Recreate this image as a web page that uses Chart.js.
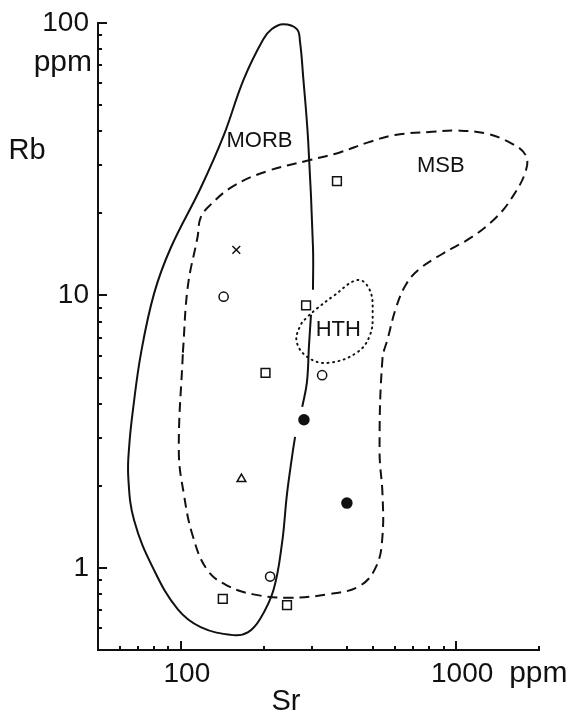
<!DOCTYPE html>
<html lang="en">
<head>
<meta charset="utf-8">
<title>Rb versus Sr</title>
<script src="https://cdn.jsdelivr.net/npm/chart.js@4.4.1/dist/chart.umd.min.js"></script>
<style>
  html, body { margin: 0; padding: 0; background: #fff; }
  #wrap { width: 583px; height: 719px; }
</style>
</head>
<body>
<div id="wrap"><canvas id="chart" width="583" height="719"></canvas></div>
<script>
// axis ticks (log scales)
var srTicks = [50, 60, 70, 80, 90, 100, 200, 300, 400, 500, 600, 700, 800, 900, 1000, 2000];
var rbTicks = [0.5, 0.6, 0.7, 0.8, 0.9, 1, 2, 3, 4, 5, 6, 7, 8, 9, 10, 20, 30, 40, 50, 60, 70, 80, 90, 100];
var srLabelled = [100, 1000];
var rbLabelled = [1, 10, 100];

// samples, Sr and Rb in ppm
var squareSr = [369, 285, 203, 142, 243];
var squareRb = [26.3, 9.2, 5.2, 0.77, 0.73];
var circleSr = [143, 326, 211];
var circleRb = [9.9, 5.1, 0.93];
var dotSr = [280, 401];
var dotRb = [3.5, 1.73];
var triangleSr = [166];
var triangleRb = [2.12];
var crossSr = [159];
var crossRb = [14.7];

// field outlines (null = break in the line)
var morbSr = [297, 292, 287, 276, null, 260, 254, 243, 233, 217, 194, 175, 155, 118, 97.5, 80, 67.7, 64.4, 65, 67.1, 71.7, 80, 92, 118, 143, 169, 199, 214, 235, 264, 271, 278, 290, 302, 302];
var morbRb = [8.5, 6.53, 4.8, 3.9, null, 3.03, 2.6, 1.87, 1.23, 0.83, 0.65, 0.58, 0.567, 0.607, 0.705, 0.98, 1.49, 2.16, 2.85, 3.86, 6.17, 10.2, 15, 24.8, 38.6, 62, 87, 95, 99, 95, 85, 64, 37, 15, 10.5];
var msbSr = [101.7, 106, 115, 118, 128, 155, 206, 294, 378, 473, 600, 819, 1000, 1283, 1593, 1790, 1790, 1593, 1394, 1142, 890, 735, 660, 607, 564, 540, 527, 540, 540, 514, 447, 340, 243, 183.5, 148, 125, 110.5, 102.5, 98.3, 101.7];
var msbRb = [6.17, 10.8, 16.4, 19.3, 21.5, 25.2, 28.6, 31.4, 33.5, 36.3, 38.8, 39.9, 40.3, 39.3, 36.1, 32.7, 28.6, 22.8, 19.3, 16.4, 14.2, 12.5, 11.05, 9.12, 6.93, 5.86, 2.68, 1.87, 1.31, 1.02, 0.86, 0.80, 0.778, 0.80, 0.86, 0.98, 1.31, 1.87, 2.68, 6.17];
var hthSr = [312.5, 356.6, 439, 485, 497.5, 485, 435.5, 348, 294.5, 264, 271, 290, 312.5];
var hthRb = [8.97, 9.92, 11.4, 10.5, 8.6, 7.1, 6.17, 5.67, 5.86, 6.7, 7.72, 8.39, 8.97];

var fieldNames = ['MORB', 'MSB', 'HTH'];
var fieldNameSr = [193, 879, 373];
var fieldNameRb = [37, 29.8, 7.5];

var ink = '#111';
var face = '"Liberation Sans", Arial, sans-serif';

function pts(xs, ys) {
  return xs.map(function(x, i) { return {x: x, y: ys[i]}; });
}

function marker(xs, ys, style, r, fill) {
  return {
    data: pts(xs, ys),
    pointStyle: style,
    pointRadius: r,
    pointBorderWidth: 1.5,
    pointBorderColor: ink,
    pointBackgroundColor: fill,
    order: 0
  };
}

function outline(xs, ys, dash, cap) {
  return {
    data: pts(xs, ys),
    showLine: true,
    borderColor: ink,
    borderWidth: 2,
    borderDash: dash,
    borderCapStyle: cap,
    tension: 0.4,
    pointRadius: 0,
    spanGaps: false,
    clip: false,
    order: 1
  };
}

var extras = {
  id: 'extras',
  afterDraw: function(chart) {
    var ctx = chart.ctx, xs = chart.scales.x, ys = chart.scales.y, area = chart.chartArea;
    ctx.save();
    ctx.strokeStyle = ink;
    ctx.lineWidth = 2;
    // ticks point into the plot
    ys.ticks.forEach(function(t) {
      var y = Math.round(ys.getPixelForValue(t.value));
      var len = rbLabelled.indexOf(t.value) >= 0 ? 9 : 4;
      ctx.beginPath(); ctx.moveTo(area.left, y); ctx.lineTo(area.left + len, y); ctx.stroke();
    });
    xs.ticks.forEach(function(t) {
      var x = Math.round(xs.getPixelForValue(t.value));
      var len = srLabelled.indexOf(t.value) >= 0 ? 9 : 4;
      ctx.beginPath(); ctx.moveTo(x, area.bottom); ctx.lineTo(x, area.bottom - len); ctx.stroke();
    });

    ctx.fillStyle = ink;
    ctx.textAlign = 'center';
    ctx.textBaseline = 'middle';
    ctx.font = '22px ' + face;
    fieldNames.forEach(function(n, i) {
      ctx.fillText(n, xs.getPixelForValue(fieldNameSr[i]), ys.getPixelForValue(fieldNameRb[i]));
    });

    ctx.font = '29px ' + face;
    ctx.fillText('Rb', 27, ys.getPixelForValue(34));
    ctx.fillText('Sr', xs.getPixelForValue(241), area.bottom + 52);
    ctx.font = '30px ' + face;
    ctx.textBaseline = 'alphabetic';
    ctx.textAlign = 'right';
    ctx.fillText('ppm', area.left - 6, ys.getPixelForValue(100) + 48);
    ctx.textAlign = 'left';
    ctx.fillText('ppm', xs.getPixelForValue(1000) + 53, area.bottom + 32);
    ctx.restore();
  }
};

new Chart(document.getElementById('chart'), {
  type: 'scatter',
  data: {
    datasets: [
      marker(squareSr, squareRb, 'rect', 6.2, '#fff'),
      marker(circleSr, circleRb, 'circle', 4.6, '#fff'),
      marker(dotSr, dotRb, 'circle', 5, ink),
      marker(triangleSr, triangleRb, 'triangle', 5, '#fff'),
      marker(crossSr, crossRb, 'crossRot', 5.5, '#fff'),
      outline(morbSr, morbRb, [], 'butt'),
      outline(msbSr, msbRb, [10, 6], 'butt'),
      outline(hthSr, hthRb, [1, 4.5], 'round')
    ]
  },
  options: {
    responsive: false,
    animation: false,
    layout: { padding: { left: 0, right: 44, top: 15, bottom: 0 } },
    plugins: { legend: { display: false }, tooltip: { enabled: false } },
    scales: {
      x: {
        type: 'logarithmic',
        min: 50,
        max: 2000,
        afterBuildTicks: function(s) { s.ticks = srTicks.map(function(v) { return {value: v}; }); },
        afterFit: function(s) { s.height = 69; },
        grid: { drawOnChartArea: false, drawTicks: false },
        border: { display: true, color: ink, width: 2 },
        ticks: {
          autoSkip: false,
          maxRotation: 0,
          padding: 10,
          labelOffset: 6,
          color: ink,
          font: { family: face, size: 28, lineHeight: 1 },
          callback: function(v) { return srLabelled.indexOf(v) >= 0 ? String(v) : ''; }
        }
      },
      y: {
        type: 'logarithmic',
        min: 0.5,
        max: 100,
        afterBuildTicks: function(s) { s.ticks = rbTicks.map(function(v) { return {value: v}; }); },
        afterFit: function(s) { s.width = 98; },
        grid: { drawOnChartArea: false, drawTicks: false },
        border: { display: true, color: ink, width: 2 },
        ticks: {
          autoSkip: false,
          padding: 9,
          color: ink,
          font: { family: face, size: 28, lineHeight: 1 },
          callback: function(v) { return rbLabelled.indexOf(v) >= 0 ? String(v) : ''; }
        }
      }
    }
  },
  plugins: [extras]
});
</script>
</body>
</html>
